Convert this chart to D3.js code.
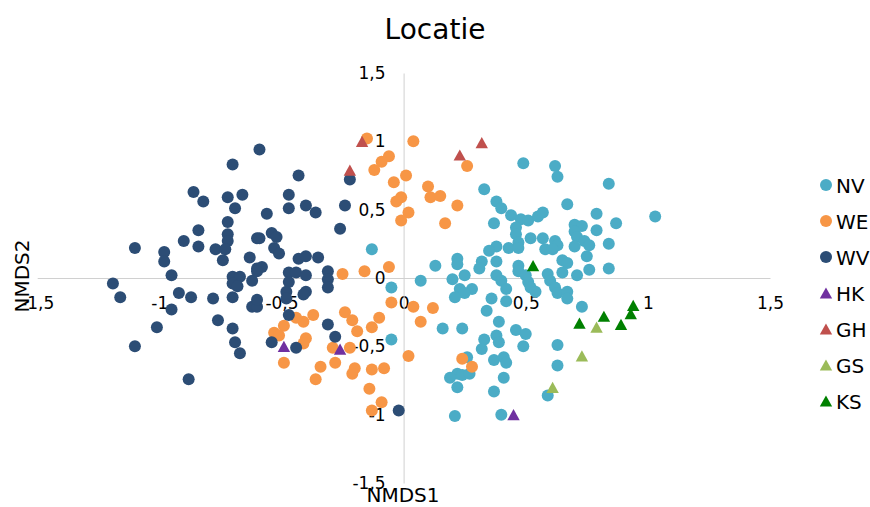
<!DOCTYPE html>
<html>
<head>
<meta charset="utf-8">
<script src="https://cdn.jsdelivr.net/npm/d3@7"></script>
<style>
  body { margin: 0; background: #fff; }
  svg { display: block; font-family: "DejaVu Sans", Verdana, sans-serif; }
</style>
</head>
<body>
<div id="chart"></div>
<script>
// NMDS scores per location (x = NMDS1, y = NMDS2)
var NV = [[0.49,0.84],[0.62,0.82],[0.63,0.74],[0.84,0.69],[0.33,0.65],[0.38,0.56],[0.40,0.51],[0.44,0.46],[0.48,0.43],[0.51,0.42],[0.55,0.45],[0.57,0.48],[0.67,0.54],[0.79,0.47],[0.87,0.40],[1.03,0.45],[0.37,0.40],[0.46,0.37],[0.46,0.32],[0.47,0.26],[0.70,0.39],[0.73,0.38],[0.70,0.34],[0.71,0.30],[0.79,0.35],[0.52,0.29],[0.57,0.29],[0.62,0.27],[0.63,0.24],[0.58,0.21],[0.61,0.21],[0.74,0.27],[0.76,0.24],[0.84,0.25],[0.43,0.22],[0.47,0.22],[0.38,0.23],[0.35,0.20],[0.70,0.23],[0.75,0.16],[0.22,0.14],[0.22,0.10],[0.13,0.09],[0.32,0.12],[0.31,0.07],[0.38,0.12],[0.47,0.09],[0.47,0.05],[0.65,0.13],[0.67,0.11],[0.65,0.04],[0.71,0.02],[0.76,0.06],[0.84,0.07],[0.20,-0.01],[0.25,0.02],[0.07,-0.02],[0.23,-0.08],[0.28,-0.08],[0.21,-0.14],[0.25,-0.11],[0.38,0.02],[0.40,-0.02],[0.42,-0.08],[0.50,0.02],[0.51,-0.03],[0.52,-0.07],[0.59,0.03],[0.60,-0.02],[0.62,-0.07],[0.63,-0.11],[0.67,-0.10],[0.67,-0.15],[0.54,-0.10],[0.36,-0.15],[0.42,-0.17],[0.34,-0.24],[0.73,-0.21],[0.16,-0.37],[0.24,-0.37],[0.39,-0.32],[0.46,-0.38],[0.50,-0.41],[0.33,-0.45],[0.32,-0.52],[0.38,-0.42],[0.39,-0.47],[0.49,-0.50],[0.63,-0.49],[0.63,-0.64],[0.37,-0.60],[0.41,-0.58],[0.42,-0.62],[0.26,-0.58],[0.22,-0.70],[0.19,-0.73],[0.24,-0.71],[0.27,-0.70],[0.22,-0.80],[0.41,-0.73],[0.37,-0.83],[0.59,-0.86],[0.21,-1.01],[0.40,-1.00],[-0.13,0.21],[-0.05,-0.07],[-0.05,-0.45]];

var WE = [[-0.15,1.02],[0.04,1.00],[-0.06,0.89],[-0.09,0.85],[-0.12,0.79],[0.01,0.75],[-0.04,0.70],[-0.01,0.59],[-0.03,0.56],[0.02,0.48],[-0.01,0.42],[-0.25,0.03],[-0.16,0.05],[-0.06,0.08],[0.26,0.82],[0.10,0.67],[0.11,0.59],[0.15,0.60],[0.22,0.53],[0.17,0.40],[-0.05,-0.18],[-0.24,-0.25],[-0.21,-0.31],[-0.19,-0.39],[-0.10,-0.29],[-0.13,-0.36],[-0.37,-0.27],[-0.41,-0.32],[-0.44,-0.29],[-0.49,-0.35],[-0.53,-0.40],[-0.51,-0.42],[-0.40,-0.44],[-0.41,-0.48],[-0.29,-0.51],[-0.22,-0.51],[-0.49,-0.62],[-0.28,-0.62],[-0.34,-0.65],[-0.36,-0.74],[-0.20,-0.66],[-0.21,-0.70],[-0.13,-0.67],[-0.08,-0.66],[-0.14,-0.81],[-0.09,-0.91],[-0.13,-0.97],[0.02,-0.57],[0.04,-0.21],[0.12,-0.22],[0.07,-0.32],[0.24,-0.59],[0.28,-0.65]];

var WV = [[-0.59,0.94],[-0.70,0.83],[-0.86,0.63],[-0.82,0.56],[-0.72,0.59],[-0.66,0.61],[-0.69,0.51],[-0.72,0.41],[-0.84,0.35],[-0.90,0.27],[-0.84,0.23],[-1.10,0.22],[-0.98,0.19],[-0.98,0.12],[-0.72,0.32],[-0.72,0.27],[-0.77,0.21],[-0.73,0.21],[-0.74,0.13],[-0.63,0.15],[-0.60,0.29],[-0.95,0.02],[-1.19,-0.04],[-1.16,-0.14],[-0.92,-0.11],[-0.87,-0.14],[-0.78,-0.15],[-0.70,0.01],[-0.67,0.01],[-0.70,-0.04],[-0.68,-0.06],[-0.70,-0.14],[-0.62,-0.02],[-0.60,0.07],[-0.62,-0.21],[-0.60,-0.21],[-0.60,-0.16],[-0.95,-0.23],[-0.76,-0.31],[-1.01,-0.36],[-1.10,-0.50],[-0.88,-0.74],[-0.43,0.75],[-0.22,0.72],[-0.47,0.61],[-0.47,0.51],[-0.40,0.53],[-0.36,0.48],[-0.24,0.53],[-0.56,0.47],[-0.26,0.36],[-0.54,0.33],[-0.52,0.30],[-0.59,0.29],[-0.53,0.22],[-0.51,0.18],[-0.43,0.14],[-0.40,0.16],[-0.35,0.15],[-0.58,0.08],[-0.60,0.05],[-0.47,0.04],[-0.44,0.04],[-0.40,0.02],[-0.31,0.05],[-0.31,-0.01],[-0.31,-0.07],[-0.47,-0.03],[-0.48,-0.10],[-0.48,-0.15],[-0.40,-0.10],[-0.41,-0.12],[-0.47,-0.27],[-0.70,-0.37],[-0.69,-0.47],[-0.67,-0.55],[-0.54,-0.47],[-0.44,-0.51],[-0.31,-0.34],[-0.28,-0.43],[-0.02,-0.97]];

var HK = [[-0.49,-0.50],[-0.26,-0.52],[0.45,-1.00]];
var GH = [[-0.17,1.00],[-0.22,0.79],[0.23,0.90],[0.32,0.99]];
var GS = [[0.79,-0.36],[0.73,-0.57],[0.61,-0.80]];
var KS = [[0.53,0.09],[0.72,-0.33],[0.82,-0.28],[0.89,-0.34],[0.93,-0.26],[0.94,-0.20]];

var seriesNames = ["NV", "WE", "WV", "HK", "GH", "GS", "KS"];
var tickValues = [-1.5, -1, -0.5, 0, 0.5, 1, 1.5];

var series = [
  {name: "NV", data: NV, color: "#4BACC6", shape: "circle"},
  {name: "WE", data: WE, color: "#F79646", shape: "circle"},
  {name: "WV", data: WV, color: "#2C4D75", shape: "circle"},
  {name: "HK", data: HK, color: "#7030A0", shape: "triangle"},
  {name: "GH", data: GH, color: "#C0504D", shape: "triangle"},
  {name: "GS", data: GS, color: "#9BBB59", shape: "triangle"},
  {name: "KS", data: KS, color: "#008000", shape: "triangle"}
];

var W = 870, H = 507;
var svg = d3.select("#chart").append("svg")
  .attr("width", W)
  .attr("height", H);

var x = d3.scaleLinear().domain([-1.5, 1.5]).range([37.2, 770]);
var y = d3.scaleLinear().domain([-1.5, 1.5]).range([483, 73]);

var fmt = function(d) { return String(d).replace(".", ","); };

// title
svg.append("text")
  .attr("x", 435)
  .attr("y", 39)
  .attr("text-anchor", "middle")
  .attr("font-size", 28)
  .attr("fill", "#000")
  .text("Locatie");

// axes crossing at origin
var xAxis = svg.append("g")
  .attr("transform", "translate(0," + y(0) + ")")
  .call(d3.axisBottom(x).tickValues(tickValues).tickSize(0).tickPadding(19).tickFormat(fmt));

var yAxis = svg.append("g")
  .attr("transform", "translate(" + x(0) + ",0)")
  .call(d3.axisLeft(y).tickValues(tickValues).tickSize(0).tickPadding(18).tickFormat(fmt));

[xAxis, yAxis].forEach(function(a) {
  a.select(".domain").attr("stroke", "#D0D0D0").attr("stroke-width", 1);
  a.selectAll("text")
    .attr("font-size", 17)
    .attr("font-family", "DejaVu Sans, Verdana, sans-serif")
    .attr("fill", "#000");
});

// triangle with its bounding box centred on the point
function triangle(cx, cy) {
  var w = 6.2, h = 5.6;
  return "M" + cx + "," + (cy - h) + "L" + (cx + w) + "," + (cy + h) + "L" + (cx - w) + "," + (cy + h) + "Z";
}

// markers, drawn series by series
series.forEach(function(s) {
  var g = svg.append("g");
  if (s.shape == "circle") {
    g.selectAll("circle")
      .data(s.data)
      .enter()
      .append("circle")
      .attr("cx", function(d) { return x(d[0]); })
      .attr("cy", function(d) { return y(d[1]); })
      .attr("r", 6)
      .attr("fill", s.color);
  } else {
    g.selectAll("path")
      .data(s.data)
      .enter()
      .append("path")
      .attr("d", function(d) { return triangle(x(d[0]), y(d[1])); })
      .attr("fill", s.color);
  }
});

// axis titles
svg.append("text")
  .attr("x", 403)
  .attr("y", 502)
  .attr("text-anchor", "middle")
  .attr("font-size", 20)
  .text("NMDS1");

svg.append("text")
  .attr("transform", "translate(29,276)rotate(-90)")
  .attr("text-anchor", "middle")
  .attr("font-size", 20)
  .text("NMDS2");

// legend
var legend = svg.append("g");
series.forEach(function(s, i) {
  var ly = 185 + i * 36;
  if (s.shape == "circle") {
    legend.append("circle")
      .attr("cx", 826)
      .attr("cy", ly)
      .attr("r", 6)
      .attr("fill", s.color);
  } else {
    legend.append("path")
      .attr("d", triangle(826, ly))
      .attr("fill", s.color);
  }
  legend.append("text")
    .attr("x", 836)
    .attr("y", ly + 7.5)
    .attr("font-size", 20)
    .text(s.name);
});
</script>
</body>
</html>
